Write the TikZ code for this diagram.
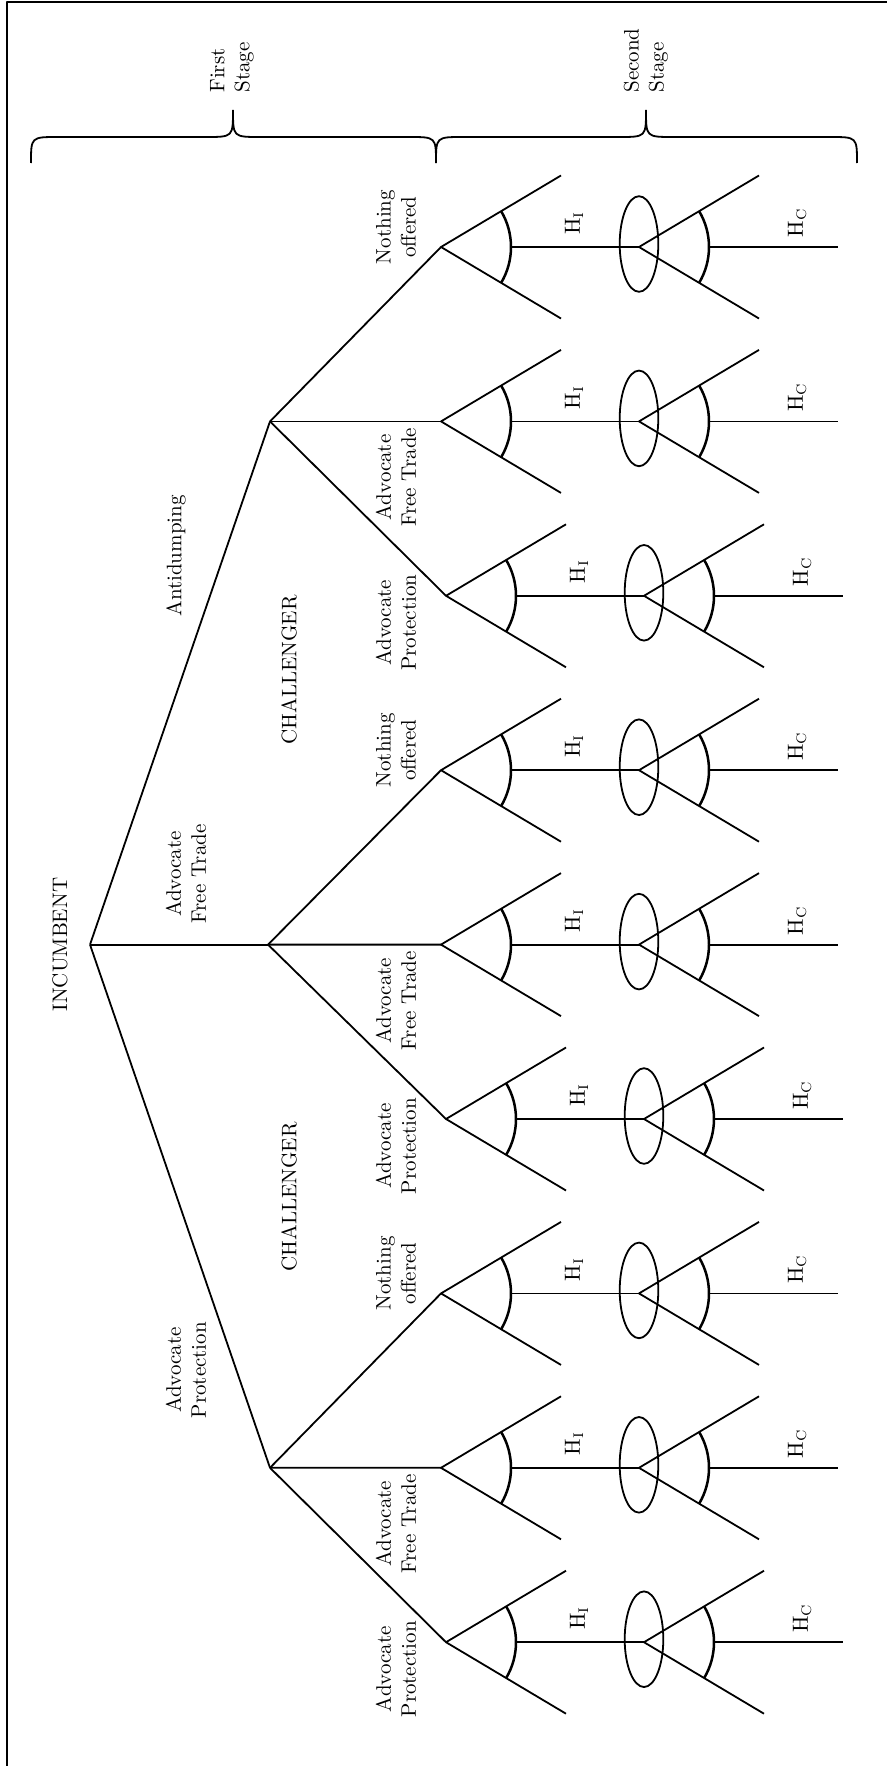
\documentclass[tikz,border=0pt]{standalone}
\usetikzlibrary{calc}
\begin{document}
\begin{tikzpicture}[x=0.5pt,y=-0.5pt,
  edge/.style={line width=0.9pt, line join=round},
  wedge/.style={line width=1.25pt},
  infoset/.style={line width=0.9pt},
  bracepath/.style={line width=0.9pt},
  txt/.style={rotate=90, align=center, inner sep=0pt, font=\fontsize{10.5}{12.5}\selectfont},
  lefttxt/.style={rotate=90, align=left, anchor=west, inner sep=0pt, font=\fontsize{10.5}{12.5}\selectfont}]
\useasboundingbox (0,0) rectangle (887,1766);
% frame
\coordinate (fr1) at (887,2);
\coordinate (fr2) at (7,2);
\coordinate (fr3) at (7,1766);
\draw[edge] (fr1) -- (fr2) -- (fr3);
% braces
\draw[bracepath] (31,163) .. controls (31,137) .. (58,137) -- (206,137) .. controls (233,137) .. (233,110)
  .. controls (233,137) .. (260,137) -- (409,137) .. controls (436,137) .. (436,163);
\draw[bracepath] (436,163) .. controls (436,137) .. (463,137) -- (619,137) .. controls (646,137) .. (646,110)
  .. controls (646,137) .. (673,137) -- (830,137) .. controls (857,137) .. (857,163);
\node[lefttxt] (st1) at (232,93) {First\\Stage};
\node[lefttxt] (st2) at (646,93) {Second\\Stage};
% first stage
\coordinate (root) at (90,944.6);
\coordinate (a) at (270,421.4);
\coordinate (b) at (268,944.6);
\coordinate (c) at (270,1467.8);
\draw[edge] (root) -- (a);
\draw[edge] (root) -- (b);
\draw[edge] (root) -- (c);
\node[txt] (inc) at (60,944.6) {INCUMBENT};
\node[txt] (l1a) at (176,556) {Antidumping};
\node[txt] (l1b) at (186,874) {Advocate\\Free Trade};
\node[txt] (l1c) at (186,1370) {Advocate\\Protection};
\node[txt] (ch1) at (289,670) {CHALLENGER};
\node[txt] (ch2) at (289,1197) {CHALLENGER};
% second level
\foreach \k/\p in {0/a,1/a,2/a,3/b,4/b,5/b,6/c,7/c,8/c}{
  \pgfmathsetmacro\ny{247+174.4*\k}
  \pgfmathtruncatemacro\pos{mod(\k,3)}
  \pgfmathsetmacro\nx{ifthenelse(\pos==2,446,441)}
  \coordinate (n\k) at (\nx,\ny);
  \coordinate (nu\k) at (\nx+120,\ny-71.5);
  \coordinate (nl\k) at (\nx+120,\ny+71.5);
  \coordinate (na\k) at (\nx+70,\ny);
  \coordinate (m\k) at (\nx+198,\ny);
  \coordinate (mu\k) at (\nx+318,\ny-71.5);
  \coordinate (ml\k) at (\nx+318,\ny+71.5);
  \coordinate (ma\k) at (\nx+268,\ny);
  \coordinate (e\k) at (\nx+397,\ny);
  \draw[edge] (\p) -- (n\k);
  \draw[edge] (nu\k) -- (n\k) -- (nl\k);
  \draw[edge] (na\k) -- (m\k);
  \draw[edge] (mu\k) -- (m\k) -- (ml\k);
  \draw[edge] (ma\k) -- (e\k);
  \draw[wedge] ($(n\k)+(-30.8:70)$) arc[start angle=-30.8,end angle=30.8,radius=70];
  \draw[wedge] ($(m\k)+(-30.8:70)$) arc[start angle=-30.8,end angle=30.8,radius=70];
  \draw[infoset] ($(m\k)+(0,-3)$) ellipse[x radius=19.3,y radius=47.8];
  \node[txt] (hi\k) at (\nx+133,\ny-24) {$\mathrm{H}_{\mathrm{I}}$};
  \node[txt] (hc\k) at (\nx+356,\ny-24) {$\mathrm{H}_{\mathrm{C}}$};
}
% second level labels
\node[txt] (t0) at (396,227) {Nothing\\offered};
\node[txt] (t1) at (396,477.4) {Advocate\\Free Trade};
\node[txt] (t2) at (396,622.8) {Advocate\\Protection};
\node[txt] (t3) at (396,750.2) {Nothing\\offered};
\node[txt] (t4) at (396,1000.6) {Advocate\\Free Trade};
\node[txt] (t5) at (396,1146) {Advocate\\Protection};
\node[txt] (t6) at (396,1273.4) {Nothing\\offered};
\node[txt] (t7) at (396,1523.8) {Advocate\\Free Trade};
\node[txt] (t8) at (396,1669.2) {Advocate\\Protection};
\end{tikzpicture}
\end{document}
